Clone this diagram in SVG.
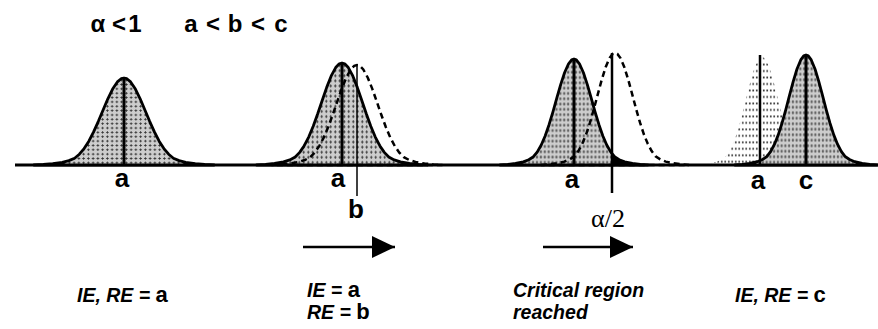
<svg xmlns="http://www.w3.org/2000/svg" width="878" height="329" viewBox="0 0 878 329">
  <style>
    .solid { fill: url(#stip); stroke: #000; stroke-width: 2.8; stroke-linejoin: round; }
    .dash { fill: none; stroke: #000; stroke-width: 2.5; stroke-dasharray: 6 4; }
    .dotted { fill: url(#dots); stroke: none; }
    .blk { fill: #000; stroke: none; }
    .vl { stroke: #000; stroke-width: 3; }
    .vt { stroke: #000; stroke-width: 1.5; }
    .lbl { font-family: "Liberation Sans Narrow", "Liberation Sans", Arial, sans-serif; font-weight: bold; font-size: 26px; text-anchor: middle; fill: #000; }
    .top { font-family: "Liberation Sans", Arial, sans-serif; font-weight: bold; font-size: 24px; text-anchor: middle; fill: #000; }
    .cap { font-family: "Liberation Sans", Arial, sans-serif; font-weight: bold; font-style: italic; font-size: 19.5px; fill: #000; }
    .up { font-style: normal; font-size: 22px; }
    .ser { font-family: "Liberation Serif", "Times New Roman", serif; font-size: 26px; text-anchor: middle; fill: #000; }
    .arr { stroke: #000; stroke-width: 2.5; marker-end: url(#ah); }
  </style>
  <defs>
    <pattern id="stip" width="5" height="5" patternUnits="userSpaceOnUse">
      <rect width="5" height="5" fill="#cdcdcd"/>
      <path d="M2.5,1 V4 M1,2.5 H4" stroke="#2a2a2a" stroke-width="0.8"/>
    </pattern>
    <pattern id="dots" width="5" height="6" patternUnits="userSpaceOnUse">
      <circle cx="2.5" cy="3" r="1.1" fill="#222"/>
    </pattern>
    <path id="g" vector-effect="non-scaling-stroke" d="M-95,0 L-85,-0.6 L-75,-1.5 L-65,-3 L-58,-5 L-52,-7.8 L-47,-12.4 L-42,-18.9 L-37,-27.4 L-32,-38 L-27,-50.2 L-22,-63.3 L-17,-76.1 L-12,-87.3 L-7,-95.5 L-3,-99.2 L0,-100 L3,-99.2 L7,-95.5 L12,-87.3 L17,-76.1 L22,-63.3 L27,-50.2 L32,-38 L37,-27.4 L42,-18.9 L47,-12.4 L52,-7.8 L58,-5 L65,-3 L75,-1.5 L85,-0.6 L95,0 Z"/>
    <clipPath id="crit" clipPathUnits="userSpaceOnUse">
      <rect x="612" y="0" width="100" height="165"/>
    </clipPath>
    <marker id="ah" markerUnits="userSpaceOnUse" markerWidth="23" markerHeight="22" refX="23" refY="11" orient="auto">
      <path d="M0,0 L23,11 L0,22 Z" fill="#000"/>
    </marker>
  </defs>

  <g id="header">
    <text class="top" x="98" y="32">α</text>
    <text class="top" x="119" y="32">&lt;</text>
    <text class="top" x="135" y="32">1</text>
    <text class="top" x="191" y="32">a</text>
    <text class="top" x="213" y="32">&lt;</text>
    <text class="top" x="235" y="32">b</text>
    <text class="top" x="258" y="32">&lt;</text>
    <text class="top" x="281" y="32">c</text>
  </g>

  <g id="axis">
    <line x1="15" y1="165" x2="878" y2="165" stroke="#000" stroke-width="3"/>
  </g>

  <g id="panel1">
    <use href="#g" class="solid" transform="translate(124,165) scale(0.95,0.87)"/>
    <line class="vl" x1="124" y1="78" x2="124" y2="165"/>
    <text class="lbl" x="122" y="187">a</text>
  </g>

  <g id="panel2">
    <use href="#g" class="solid" transform="translate(342,165) scale(0.9,1.02)"/>
    <use href="#g" class="dash" transform="translate(357,165) scale(0.9,1.0)"/>
    <line class="vl" x1="342" y1="63" x2="342" y2="165"/>
    <line class="vt" x1="357" y1="65" x2="357" y2="196"/>
    <text class="lbl" x="338" y="187">a</text>
    <text class="lbl" x="356" y="218">b</text>
  </g>

  <g id="panel3">
    <use href="#g" class="solid" transform="translate(574,165) scale(0.78,1.06)"/>
    <g clip-path="url(#crit)">
      <use href="#g" class="blk" transform="translate(574,165) scale(0.78,1.06)"/>
    </g>
    <use href="#g" class="dash" transform="translate(615,165) scale(0.78,1.12)"/>
    <line class="vl" x1="574" y1="59" x2="574" y2="165"/>
    <line stroke="#000" stroke-width="2.5" x1="612" y1="53" x2="612" y2="193"/>
    <text class="lbl" x="572" y="188">a</text>
    <text class="ser" x="608" y="227">α/2</text>
  </g>

  <g id="panel4">
    <use href="#g" class="dotted" transform="translate(762,165) scale(0.7,1.08)"/>
    <use href="#g" class="solid" transform="translate(806,165) scale(0.75,1.1)"/>
    <line stroke="#000" stroke-width="2.5" x1="760" y1="55" x2="760" y2="165"/>
    <line class="vl" x1="806" y1="55" x2="806" y2="165"/>
    <text class="lbl" x="758" y="189">a</text>
    <text class="lbl" x="806" y="189">c</text>
  </g>

  <g id="connectors">
    <line class="arr" x1="303" y1="247" x2="395" y2="247"/>
    <line class="arr" x1="543" y1="247" x2="633" y2="247"/>
  </g>

  <g id="captions">
    <text class="cap" x="77" y="302">IE, RE = <tspan class="up">a</tspan></text>
    <text class="cap" x="307" y="297">IE = <tspan class="up">a</tspan></text>
    <text class="cap" x="307" y="319">RE = <tspan class="up">b</tspan></text>
    <text class="cap" x="513" y="297">Critical region</text>
    <text class="cap" x="513" y="319">reached</text>
    <text class="cap" x="735" y="302">IE, RE = <tspan class="up">c</tspan></text>
  </g>
</svg>
